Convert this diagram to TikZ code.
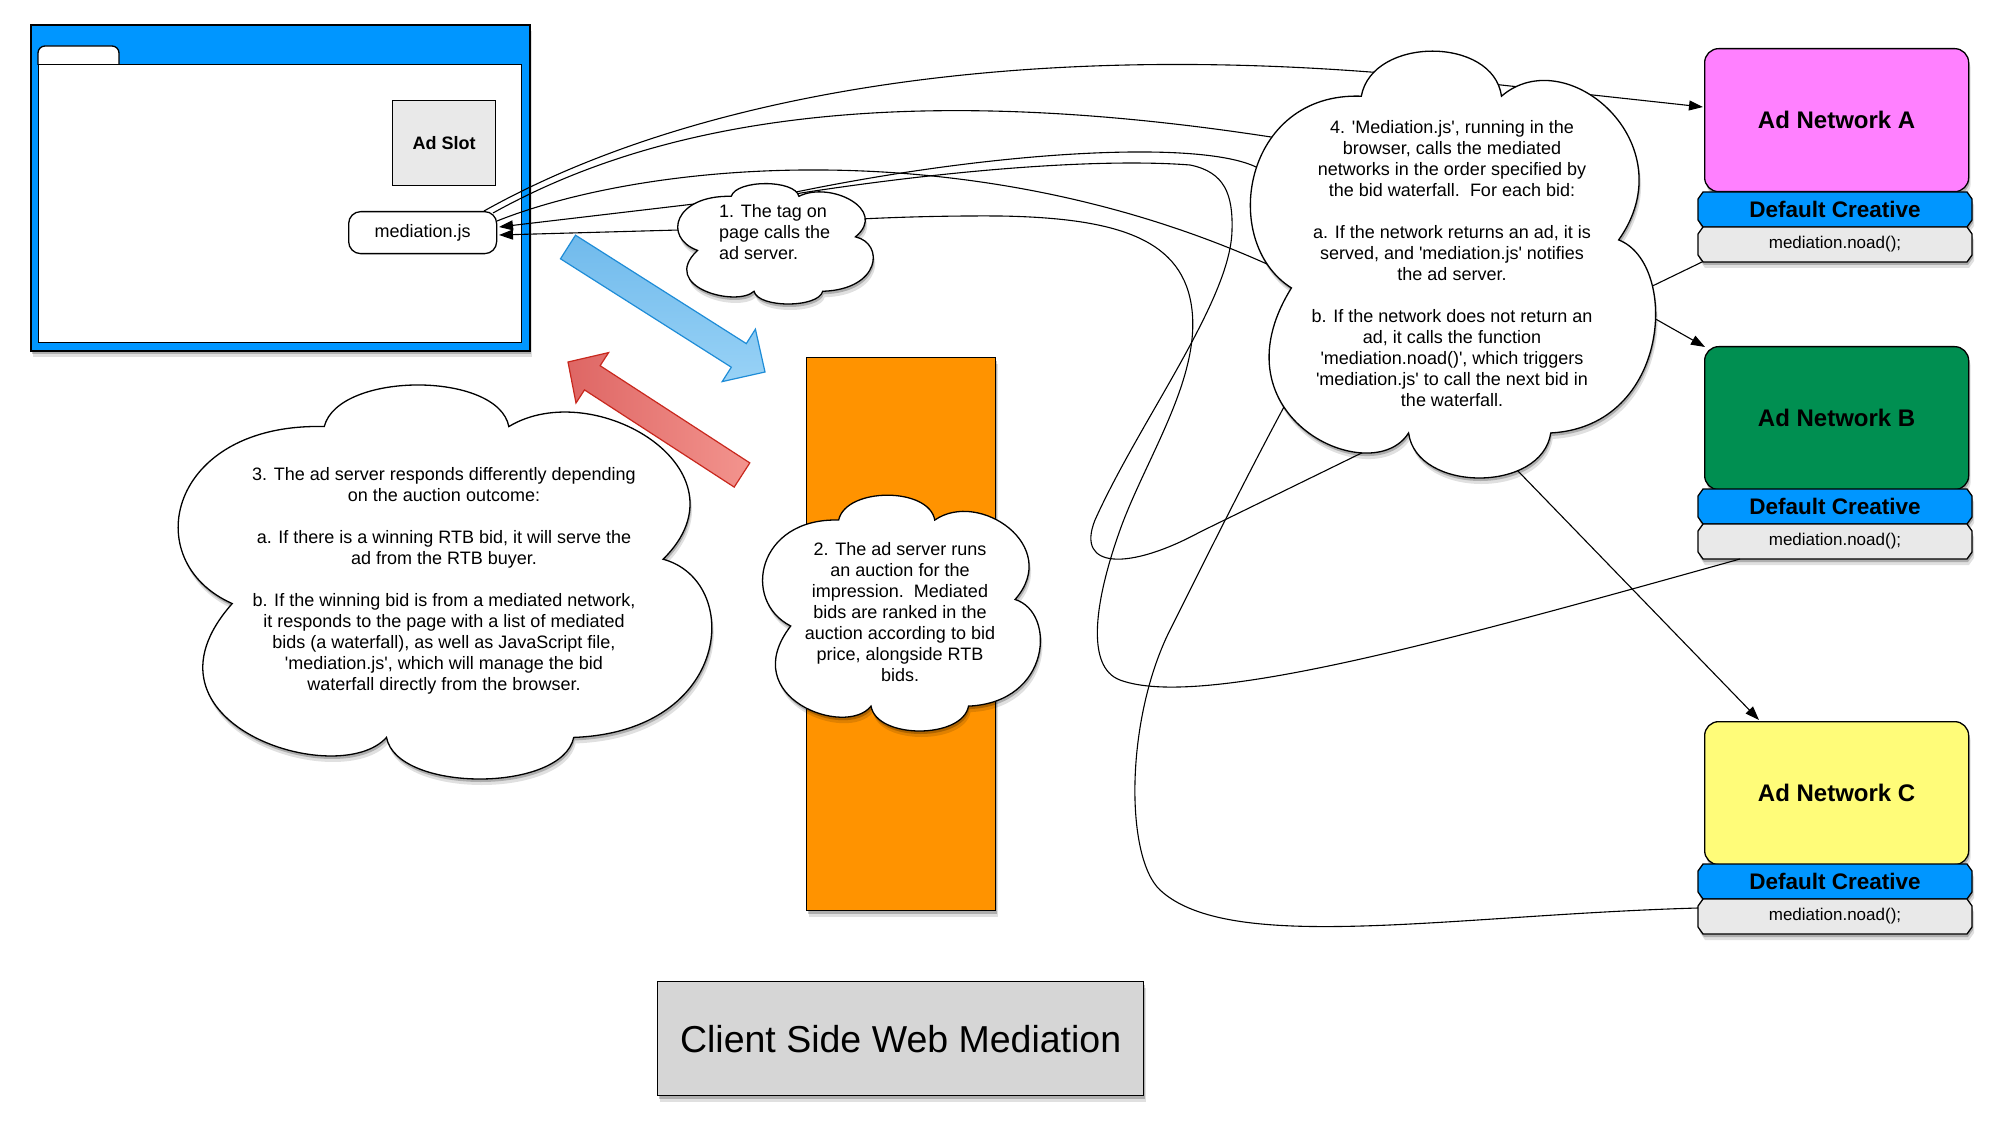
\documentclass[tikz,border=0pt]{standalone}
\usepackage{fontspec}
\setmainfont{Liberation Sans}
\usetikzlibrary{arrows.meta,shadows}
\definecolor{aqua}{RGB}{0,150,255}
\definecolor{pinkA}{RGB}{255,128,255}
\definecolor{greenB}{RGB}{0,143,81}
\definecolor{yellowC}{RGB}{255,252,121}
\definecolor{tangerine}{RGB}{255,147,0}
\definecolor{slotgray}{RGB}{233,233,233}
\definecolor{titlegray}{RGB}{214,214,214}
\definecolor{bluearrowA}{RGB}{112,186,236}
\definecolor{bluearrowB}{RGB}{152,210,246}
\definecolor{blueedge}{RGB}{30,140,215}
\definecolor{redA}{RGB}{222,102,100}
\definecolor{redB}{RGB}{243,148,142}
\definecolor{rededge}{RGB}{200,40,30}
\newcommand\sq{\textquotesingle}
\newcommand\cloudpath{(0.273,0.11) .. controls (0.30,-0.03) and (0.60,-0.03) .. (0.62,0.11) .. controls (0.78,-0.02) and (1.08,0.22) .. (0.91,0.445) .. controls (1.06,0.50) and (1.04,0.88) .. (0.742,0.895) .. controls (0.72,1.035) and (0.41,1.035) .. (0.39,0.895) .. controls (0.30,1.03) and (-0.10,0.86) .. (0.10,0.557) .. controls (-0.08,0.45) and (-0.02,0.10) .. (0.273,0.11) -- cycle}
\newcommand\drawcloud[4]{\begin{scope}[shift={(#1,#2)},x=#3pt,y=-#4pt]\path[cloudst] \cloudpath;\end{scope}}
\newcommand\chbox[7]{\path[chst,fill=#6] (#2+5,#3) -- (#4-5,#3) -- (#4,#3+7) -- (#4,#5-7) -- (#4-5,#5) -- (#2+5,#5) -- (#2,#5-7) -- (#2,#3+7) -- cycle;
  \node[inner sep=0pt] (#1) at ({(#2+#4)/2},{(#3+#5)/2}) {#7};}
\begin{document}
\begin{tikzpicture}[x=1pt,y=-1pt,
  font=\fontsize{18}{21}\selectfont,
  shd/.style={drop shadow={shadow xshift=1pt,shadow yshift=-3pt,opacity=0.22,fill=black},
              drop shadow={shadow xshift=2pt,shadow yshift=-6pt,opacity=0.12,fill=black}},
  cloudst/.style={draw=black,line width=1.3pt,fill=white,shd},
  chst/.style={draw=black,line width=1.3pt,shd},
  conn/.style={line width=1.1pt},
  arr/.style={conn,-{Triangle[length=14pt,width=10pt]}},
  boxst/.style={draw=black,line width=1.3pt,inner sep=0pt,anchor=north west},
  cloudtext/.style={align=center,font=\fontsize{18}{21}\selectfont,inner sep=0pt},
  net/.style={boxst,rounded corners=14pt,shd,font=\fontsize{24}{28}\selectfont\bfseries,minimum width=264pt,minimum height=143pt},
]
\fill[white] (0,0) rectangle (2002,1131);
\useasboundingbox (0,0) rectangle (2002,1131);

% browser window
\node[boxst,fill=aqua,line width=2pt,shd,minimum width=499pt,minimum height=326pt] (browser) at (30,24) {};
\path[draw=black,line width=1.3pt,fill=white,rounded corners=7pt] (38,65) -- (38,46) -- (119,46) -- (119,65);
\node[boxst,fill=white,minimum width=483pt,minimum height=278pt] (page) at (38,64) {};
\node[boxst,fill=slotgray,minimum width=103pt,minimum height=85pt,font=\fontsize{18}{21}\selectfont\bfseries] (adslot) at (392,100) {Ad Slot};
\node[boxst,fill=white,rounded corners=12pt,minimum width=148pt,minimum height=42pt] (ms) at (348,211) {mediation.js};

% ad server and title
\node[boxst,fill=tangerine,shd,minimum width=189pt,minimum height=553pt] (adserver) at (806,357) {};
\node[boxst,fill=titlegray,shd,minimum width=486pt,minimum height=114pt,font=\fontsize{37.5}{45}\selectfont] (title) at (657,981) {Client Side Web Mediation};

% ad networks
\node[net,fill=pinkA] (netA) at (1704,48) {Ad Network A};
\chbox{dcA}{1698}{192}{1972}{227}{aqua}{\fontsize{22.5}{26}\selectfont\bfseries Default Creative}
\chbox{noadA}{1698}{227}{1972}{262}{slotgray}{\fontsize{17}{20}\selectfont mediation.noad();}
\node[net,fill=greenB] (netB) at (1704,346) {Ad Network B};
\chbox{dcB}{1698}{489}{1972}{524}{aqua}{\fontsize{22.5}{26}\selectfont\bfseries Default Creative}
\chbox{noadB}{1698}{524}{1972}{559}{slotgray}{\fontsize{17}{20}\selectfont mediation.noad();}
\node[net,fill=yellowC] (netC) at (1704,721) {Ad Network C};
\chbox{dcC}{1698}{864}{1972}{899}{aqua}{\fontsize{22.5}{26}\selectfont\bfseries Default Creative}
\chbox{noadC}{1698}{899}{1972}{934}{slotgray}{\fontsize{17}{20}\selectfont mediation.noad();}

% connector end points
\coordinate (msA) at (484,211);
\coordinate (msB) at (493,213);
\coordinate (msC) at (497,221);
\coordinate (msIn1) at (499,227);
\coordinate (msIn2) at (499,235);
\coordinate (tipA) at (1703,107);
\coordinate (tipB) at (1705,347);
\coordinate (tipC) at (1759,720);
\coordinate (noadAout) at (1702,262);
\coordinate (noadBout) at (1740,559);
\coordinate (noadCout) at (1698,908);
\coordinate (c1in) at (700,215);
\coordinate (c4in1) at (1425,422);
\coordinate (c4in2) at (1330,330);

% connectors (drawn beneath the clouds)
\draw[arr] (msA) .. controls (700,90) and (1050,30) .. (1501,85) -- (tipA);
\draw[arr] (msB) .. controls (660,120) and (900,80) .. (1271,137) .. controls (1450,165) and (1560,250) .. (1652,317) -- (tipB);
\draw[arr] (msC) .. controls (650,160) and (980,130) .. (1280,270) .. controls (1400,330) and (1470,420) .. (1517,470) -- (tipC);
\draw[arr] (noadAout) -- (1640,292) .. controls (1450,330) and (1320,200) .. (1256,167) .. controls (1200,140) and (1000,150) .. (796,192) -- (msIn1);
\draw[arr] (noadBout) .. controls (1450,640) and (1200,710) .. (1120,680) .. controls (1085,667) and (1095,600) .. (1120,530) .. controls (1145,460) and (1200,380) .. (1192,310) .. controls (1184,240) and (1120,218) .. (1000,216) .. controls (850,215) and (750,228) .. (679,230) -- (msIn2);
\draw[conn] (c1in) -- (801,193) .. controls (950,170) and (1100,158) .. (1190,165) .. controls (1225,172) and (1233,195) .. (1232,230) .. controls (1231,300) and (1140,420) .. (1095,520) .. controls (1075,570) and (1130,570) .. (1200,532) -- (c4in1);
\draw[conn] (noadCout) .. controls (1450,915) and (1230,955) .. (1160,890) .. controls (1125,857) and (1125,720) .. (1170,630) .. controls (1215,540) and (1250,470) .. (1285,405) -- (c4in2);

% clouds
\drawcloud{678}{183}{195}{121}
\drawcloud{763}{494}{277}{237}
\drawcloud{179}{383}{532}{396}
\drawcloud{1251}{49}{404}{429}

\node[cloudtext,align=left,anchor=west] (t1) at (719,232) {1. The tag on\\page calls the\\ad server.};
\node[cloudtext] (t2) at (900,612) {2. The ad server runs\\an auction for the\\impression.\ \ Mediated\\bids are ranked in the\\auction according to bid\\price, alongside RTB\\bids.};
\node[cloudtext] (t3) at (444,581) {3. The ad server responds differently depending\\on the auction outcome:\\[21pt]a. If there is a winning RTB bid, it will serve the\\ad from the RTB buyer.\\[21pt]b. If the winning bid is from a mediated network,\\it responds to the page with a list of mediated\\bids (a waterfall), as well as JavaScript file,\\\sq mediation.js\sq, which will manage the bid\\waterfall directly from the browser.};
\node[cloudtext] (t4) at (1452,264) {4. \sq Mediation.js\sq, running in the\\browser, calls the mediated\\networks in the order specified by\\the bid waterfall.\ \ For each bid:\\[21pt]a. If the network returns an ad, it is\\served, and \sq mediation.js\sq\ notifies\\the ad server.\\[21pt]b. If the network does not return an\\ad, it calls the function\\\sq mediation.noad()\sq, which triggers\\\sq mediation.js\sq\ to call the next bid in\\the waterfall.};

% block arrows
\path[draw=blueedge,line width=1.2pt,top color=bluearrowA,bottom color=bluearrowB] (560.5,258.8) -- (575.5,235.2) -- (746.3,343.6) -- (755.4,329.2) -- (765,372) -- (722.2,381.6) -- (731.3,367.2) -- cycle;
\path[draw=rededge,line width=1.2pt,left color=redA,right color=redB] (749.8,462.9) -- (600.1,365.7) -- (608.6,352.6) -- (568,362) -- (576,403) -- (584.5,389.9) -- (734.2,487.1) -- cycle;
\end{tikzpicture}
\end{document}
